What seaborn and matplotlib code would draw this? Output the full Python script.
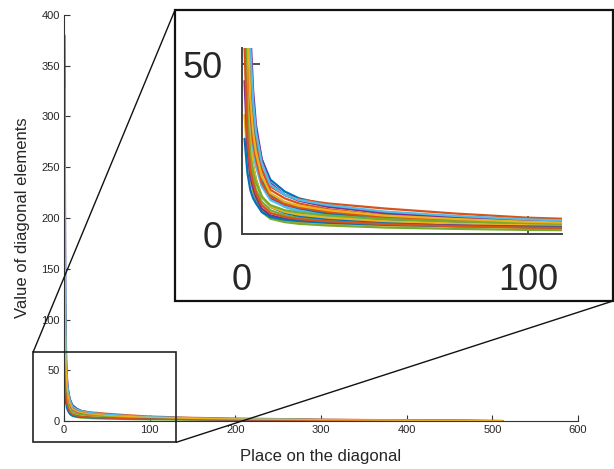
import matplotlib
matplotlib.use("Agg")
import matplotlib.pyplot as plt
from matplotlib.patches import Rectangle
from matplotlib.lines import Line2D
import seaborn as sns
import pandas as pd

# ---- data ----
place = [1, 2, 3, 4, 5, 7, 10, 15, 20, 30, 50, 75, 100, 150, 200, 300, 400, 512]

s01 = [150, 70, 48, 37, 30, 22, 16, 12.5, 10.5, 8.5, 6.0, 4.5, 3.6, 2.6, 2.0, 1.2, 0.7, 0.3]
s02 = [120, 55, 38, 31, 26, 19, 14, 11.5, 10.2, 9.0, 7.5, 6.0, 4.8, 3.5, 2.8, 1.8, 1.0, 0.4]
s03 = [90, 45, 30, 24, 20, 15, 11, 9, 8, 6.8, 5.2, 4.2, 3.5, 2.6, 2.1, 1.3, 0.8, 0.3]
s04 = [380, 120, 60, 42, 32, 22, 15, 11.5, 9.8, 8.0, 6.2, 4.9, 3.9, 2.8, 2.1, 1.3, 0.7, 0.2]
s05 = [60, 30, 20, 16, 13, 9.5, 7.0, 5.5, 4.8, 4.0, 3.2, 2.7, 2.3, 1.8, 1.4, 0.9, 0.5, 0.2]
s06 = [327, 100, 50, 34, 26, 17, 11, 8, 6.5, 5.2, 3.9, 3.0, 2.4, 1.7, 1.3, 0.8, 0.5, 0.2]
s07 = [100, 40, 25, 20, 16, 11, 8.0, 6.2, 5.3, 4.4, 3.5, 2.9, 2.5, 1.9, 1.5, 1.0, 0.6, 0.2]
s08 = [200, 85, 50, 36, 28, 19, 13, 10.5, 9.0, 7.3, 5.5, 4.3, 3.4, 2.5, 1.9, 1.2, 0.7, 0.3]
s09 = [35, 22, 16, 12.5, 10, 7, 5.0, 4.0, 3.5, 3.0, 2.5, 2.1, 1.8, 1.4, 1.1, 0.7, 0.4, 0.1]
s10 = [140, 60, 38, 28, 22, 15, 10.5, 8.3, 7.2, 6.0, 4.7, 3.8, 3.1, 2.3, 1.8, 1.1, 0.6, 0.2]
s11 = [80, 30, 18, 13, 10, 6.5, 4.5, 3.5, 3.0, 2.5, 1.9, 1.5, 1.2, 0.9, 0.7, 0.4, 0.25, 0.1]
s12 = [110, 50, 32, 25, 20, 14, 10, 8.0, 7.0, 5.8, 4.5, 3.6, 3.0, 2.2, 1.7, 1.1, 0.6, 0.2]
s13 = [170, 70, 42, 31, 24, 16, 11.5, 9.0, 7.6, 6.0, 4.3, 3.2, 2.5, 1.7, 1.3, 0.8, 0.4, 0.1]
s14 = [130, 55, 35, 27, 22, 15, 11, 8.8, 7.8, 6.5, 5.0, 4.0, 3.3, 2.4, 1.9, 1.2, 0.7, 0.2]
s15 = [95, 40, 26, 20, 16, 11, 8, 6.5, 5.7, 4.8, 3.8, 3.1, 2.6, 2.0, 1.5, 1.0, 0.5, 0.2]
s16 = [45, 25, 17, 13.5, 11, 7.5, 5.5, 4.5, 4.0, 3.5, 2.9, 2.5, 2.2, 1.7, 1.3, 0.8, 0.5, 0.2]
s17 = [70, 35, 23, 18, 15, 11, 8.5, 7.0, 6.3, 5.5, 4.4, 3.7, 3.2, 2.4, 1.9, 1.2, 0.7, 0.3]
s18 = [250, 95, 55, 39, 30, 21, 14.5, 11.5, 10.0, 8.5, 6.6, 5.3, 4.3, 3.1, 2.4, 1.5, 0.8, 0.3]
s19 = [28, 18, 13, 10.5, 9, 6.5, 5.0, 4.2, 3.8, 3.3, 2.7, 2.3, 2.0, 1.5, 1.2, 0.8, 0.4, 0.1]
s20 = [55, 28, 19, 15, 12, 8.5, 6.2, 5.0, 4.4, 3.7, 2.9, 2.3, 1.9, 1.4, 1.1, 0.7, 0.4, 0.1]
s21 = [160, 65, 40, 30, 24, 17, 12, 9.5, 8.3, 7.0, 5.4, 4.4, 3.6, 2.6, 2.0, 1.3, 0.7, 0.3]

series = [s01, s02, s03, s04, s05, s06, s07, s08, s09, s10, s11,
          s12, s13, s14, s15, s16, s17, s18, s19, s20, s21]

colors6 = ["#0072BD", "#D95319", "#EDB120", "#7E2F8E", "#77AC30", "#4DBEEE"]

main_xticks = [0, 100, 200, 300, 400, 500, 600]
main_yticks = [0, 50, 100, 150, 200, 250, 300, 350, 400]
inset_xticks = [0, 100]
inset_yticks = [0, 50]

zoom_x = (-36, 131)
zoom_y = (-21, 68)

# ---- build long table ----
rows = []
for i, s in enumerate(series):
    for x, v in zip(place, s):
        rows.append({"place": x, "value": v, "series": f"s{i+1:02d}"})
df = pd.DataFrame(rows)
names = [f"s{i+1:02d}" for i in range(len(series))]
palette = {n: colors6[i % 6] for i, n in enumerate(names)}

sns.set_style("white")
plt.rcParams["font.family"] = ["Liberation Sans", "DejaVu Sans"]
spine_c = "#333333"

fig = plt.figure(figsize=(6.14, 4.69), dpi=100)
ax = fig.add_axes([64/614, 1-421/469, (578-64)/614, (421-15)/469])

sns.lineplot(data=df, x="place", y="value", hue="series", palette=palette,
             hue_order=names, estimator=None, legend=False, linewidth=1.0,
             ax=ax, sort=False)
ax.set_xlim(0, 600)
ax.set_ylim(0, 400)
ax.set_xticks(main_xticks)
ax.set_yticks(main_yticks)
ax.tick_params(bottom=True, left=True, direction="in", length=4, width=0.8,
               labelsize=8, pad=3, color=spine_c)
for sp in ["top", "right"]:
    ax.spines[sp].set_visible(False)
for sp in ["left", "bottom"]:
    ax.spines[sp].set_color(spine_c)
    ax.spines[sp].set_linewidth(0.8)
ax.set_xlabel("Place on the diagonal", fontsize=12, labelpad=10)
ax.set_ylabel("Value of diagonal elements", fontsize=12, labelpad=8)

# zoom rectangle in main axes
rect = Rectangle((zoom_x[0], zoom_y[0]), zoom_x[1]-zoom_x[0], zoom_y[1]-zoom_y[0],
                 transform=ax.transData, fill=False, edgecolor="#222222",
                 linewidth=1.2, clip_on=False, zorder=5)
ax.add_patch(rect)

# inset frame (figure coords)
fx0, fy0 = 175/614, 1-301/469
fx1, fy1 = 613/614, 1-10/469
frame = Rectangle((fx0, fy0), fx1-fx0, fy1-fy0, transform=fig.transFigure,
                  fill=True, facecolor="white", edgecolor="#111111", linewidth=1.6, zorder=3)
fig.add_artist(frame)

# connector lines
tl = fig.transFigure.inverted().transform(ax.transData.transform((zoom_x[0], zoom_y[1])))
br = fig.transFigure.inverted().transform(ax.transData.transform((zoom_x[1], zoom_y[0])))
fig.add_artist(Line2D([tl[0], fx0], [tl[1], fy1], transform=fig.transFigure,
                      color="#111111", linewidth=1.0, zorder=2))
fig.add_artist(Line2D([br[0], fx1], [br[1], fy0], transform=fig.transFigure,
                      color="#111111", linewidth=1.0, zorder=2))

# inset axes
axi = fig.add_axes([241.7/614, 1-234/469, 320/614, (234-47.7)/469], zorder=4)
sns.lineplot(data=df, x="place", y="value", hue="series", palette=palette,
             hue_order=names, estimator=None, legend=False, linewidth=1.6,
             ax=axi, sort=False)
axi.set_xlim(0, 111.8)
axi.set_ylim(0, 54.8)
axi.set_xticks(inset_xticks)
axi.set_yticks(inset_yticks)
axi.tick_params(bottom=True, left=True, direction="in", length=13, width=1.2,
                labelsize=26, color=spine_c)
axi.tick_params(axis="x", pad=21)
axi.tick_params(axis="y", pad=14)
axi.set_xlabel("")
axi.set_ylabel("")
axi.patch.set_alpha(0)
for sp in ["top", "right"]:
    axi.spines[sp].set_visible(False)
for sp in ["left", "bottom"]:
    axi.spines[sp].set_color("#444444")
    axi.spines[sp].set_linewidth(1.4)

fig.savefig("out.png", dpi=100)
